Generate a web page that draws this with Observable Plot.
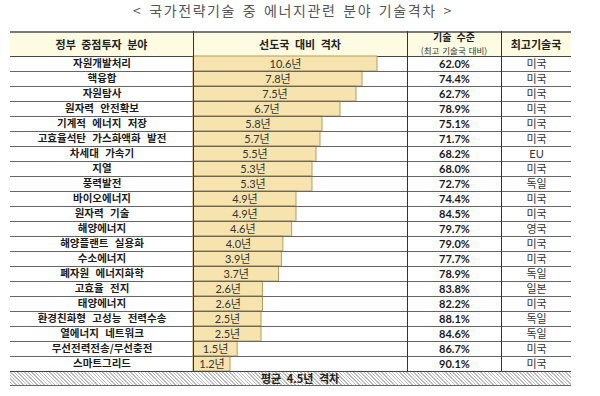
<!DOCTYPE html>
<html><head><meta charset="utf-8">
<script src="https://cdn.jsdelivr.net/npm/d3@7"></script>
<script src="https://cdn.jsdelivr.net/npm/@observablehq/plot@0.6"></script>
<style>
body{margin:0;background:#fff;}
#wrap{position:relative;width:600px;height:396px;background:#fff;font-family:"Noto Sans CJK KR",sans-serif;overflow:hidden;}
#title{position:absolute;top:0;left:0;width:586px;height:20px;line-height:20px;text-align:center;font-size:14px;color:#555;letter-spacing:1.6px;word-spacing:2px;}
#header{position:absolute;top:31px;left:10px;width:561px;height:23px;background:#fdfbe2;border-top:2px solid #7a7a7a;border-bottom:1px solid #444;}
.hc{position:absolute;top:0;height:23px;display:flex;flex-direction:column;align-items:center;justify-content:center;font-size:11px;font-weight:bold;color:#222;line-height:11px;word-spacing:3px;}
.hc2{position:absolute;top:0;height:23px;font-weight:bold;color:#222;}
.hc2 .main2{position:absolute;left:0;right:0;text-align:center;top:-1px;font-size:10px;line-height:10px;word-spacing:3px;}
.hc2 .sub{position:absolute;left:0;right:0;text-align:center;top:13.3px;font-weight:normal;font-size:8.5px;color:#333;line-height:8.5px;word-spacing:1px;}
.col{position:absolute;top:56px;}
.c0 svg text{word-spacing:4px;}
.vd{position:absolute;top:31px;width:1px;height:340px;background:#333;z-index:5;}
#footer{position:absolute;top:371px;left:10px;width:561px;height:13px;border-top:1px solid #444;border-bottom:1px solid #666;
 background:repeating-linear-gradient(45deg,#fff 0px,#fff 1.5px,#bbb 1.5px,#bbb 2.5px);font-size:11px;font-weight:bold;color:#222;}
#footer span{position:absolute;left:251px;top:-1px;line-height:14px;word-spacing:3px;}
</style></head>
<body><div id="wrap"></div>
<script>
const fields = ["자원개발처리","핵융합","자원탐사","원자력 안전확보","기계적 에너지 저장","고효율석탄 가스화액화 발전","차세대 가속기","지열","풍력발전","바이오에너지","원자력 기술","해양에너지","해양플랜트 실용화","수소에너지","폐자원 에너지화학","고효율 전지","태양에너지","환경친화형 고성능 전력수송","열에너지 네트워크","무선전력전송/무선충전","스마트그리드"];
const gaps = [10.6,7.8,7.5,6.7,5.8,5.7,5.5,5.3,5.3,4.9,4.9,4.6,4.0,3.9,3.7,2.6,2.6,2.5,2.5,1.5,1.2];
const levels = [62.0,74.4,62.7,78.9,75.1,71.7,68.2,68.0,72.7,74.4,84.5,79.7,79.0,77.7,78.9,83.8,82.2,88.1,84.6,86.7,90.1];
const countries = ["미국","미국","미국","미국","미국","미국","EU","미국","독일","미국","미국","영국","미국","미국","독일","일본","미국","독일","독일","미국","미국"];
const titleText = "< 국가전략기술 중 에너지관련 분야 기술격차 >";
const headers = ["정부 중점투자 분야","선도국 대비 격차","기술 수준","최고기술국"];
const headerSub = "(최고 기술국 대비)";
const footerText = "평균 4.5년 격차";
// Excel-style data-bar length scale (knots)
const gapKnots = [0,1.2,2.5,4.9,5.3,7.8,10.6];
const gapKnotLen = [0,37,68,103,119,169,184];

const rows = fields.map((f,i)=>({i, field:f, gap:gaps[i], level:levels[i], country:countries[i]}));
const wrap = document.getElementById("wrap");
const colX = [10,193,407,501,571];
const rowH = 15, H = rows.length*rowH;
const numFont = "Lato, 'Noto Sans CJK KR', sans-serif";

const t = document.createElement("div"); t.id="title"; t.textContent = titleText; wrap.appendChild(t);
const hd = document.createElement("div"); hd.id="header"; wrap.appendChild(hd);
headers.forEach((h,k)=>{
  const c = document.createElement("div"); c.className = k===2 ? "hc2" : "hc";
  c.style.left = (colX[k]-10)+"px"; c.style.width=(colX[k+1]-colX[k])+"px";
  c.innerHTML = k===2 ? `<div class="main2">${h}</div><div class="sub">${headerSub}</div>` : `<div>${h}</div>`;
  hd.appendChild(c);
});

const yOpt = {type:"linear", domain:[0,rows.length], range:[0,H], axis:null};
const seps = d3.range(1, rows.length);
function base(w, marks, x){
  return Plot.plot({width:w, height:H, margin:0, x: x || {domain:[0,1], axis:null}, y:yOpt,
    style:{background:"transparent", fontFamily:"'Noto Sans CJK KR', sans-serif", fontSize:"11px", overflow:"visible"},
    marks:[...marks, Plot.ruleY(seps, {stroke:"#666", strokeWidth:1})]});
}
const xs = Plot.scale({x:{type:"linear", domain:gapKnots, range:gapKnotLen}});
const mid = d => xs.invert((xs.apply(0)+xs.apply(d.gap))/2);

const cols = [
  base(colX[1]-colX[0], [
    Plot.text(rows, {y:d=>d.i+0.5, text:"field", fontWeight:"bold", fill:"#1a1a1a", fontSize:10.5})
  ]),
  base(colX[2]-colX[1], [
    Plot.rectX(rows, {x1:0, x2:"gap", y1:"i", y2:d=>d.i+1, fill:"#f6e3ad", stroke:"#b59c5c", strokeWidth:1}),
    Plot.text(rows, {x:mid, y:d=>d.i+0.5, text:d=>d.gap.toFixed(1)+"년", fill:"#333", fontFamily:numFont, fontSize:11})
  ], {type:"linear", domain:gapKnots, range:gapKnotLen, axis:null}),
  base(colX[3]-colX[2], [
    Plot.text(rows, {y:d=>d.i+0.5, text:d=>d.level.toFixed(1)+"%", fontWeight:"bold", fill:"#1a1a1a", fontFamily:numFont, fontSize:11})
  ]),
  base(colX[4]-colX[3], [
    Plot.text(rows, {y:d=>d.i+0.5, text:"country", fill:"#333", fontFamily:numFont, fontSize:11})
  ])
];
cols.forEach((svg,k)=>{
  const d = document.createElement("div"); d.className="col c"+k; d.style.left=colX[k]+"px";
  d.appendChild(svg); wrap.appendChild(d);
});
[1,2,3].forEach(k=>{ const v=document.createElement("div"); v.className="vd"; v.style.left=colX[k]+"px"; wrap.appendChild(v); });
const ft = document.createElement("div"); ft.id="footer"; ft.innerHTML = `<span>${footerText}</span>`; wrap.appendChild(ft);
</script></body></html>
